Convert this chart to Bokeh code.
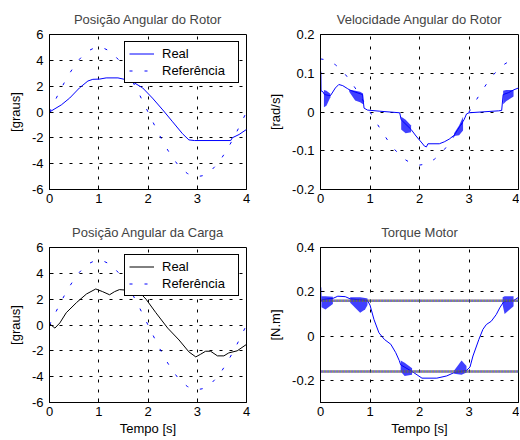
from bokeh.plotting import figure
from bokeh.layouts import column, row
from bokeh.models import Range1d, FixedTicker, CustomJSTickFormatter
from bokeh.embed import file_html
from bokeh.resources import INLINE

FONT = "Liberation Sans"

# ---------------- data ----------------
ref_t = [0.0, 0.1, 0.2, 0.3, 0.4, 0.5, 0.6, 0.7, 0.8, 0.9, 1.0, 1.1, 1.2, 1.3, 1.4,
         1.5, 1.6, 1.7, 1.8, 1.9, 2.0, 2.1, 2.2, 2.3, 2.4, 2.5, 2.6, 2.7, 2.8, 2.9,
         3.0, 3.1, 3.2, 3.3, 3.4, 3.5, 3.6, 3.7, 3.8, 3.9, 4.0]
pos_ref = [0.00, 0.78, 1.55, 2.27, 2.94, 3.54, 4.05, 4.46, 4.76, 4.94, 5.00, 4.94, 4.76, 4.46,
           4.05, 3.54, 2.94, 2.27, 1.55, 0.78, 0.00, -0.78, -1.55, -2.27, -2.94, -3.54, -4.05,
           -4.46, -4.76, -4.94, -5.00, -4.94, -4.76, -4.46, -4.05, -3.54, -2.94, -2.27, -1.55,
           -0.78, 0.00]
vel_ref = [0.137, 0.135, 0.130, 0.122, 0.111, 0.097, 0.081, 0.062, 0.042, 0.021, 0.000, -0.021,
           -0.042, -0.062, -0.081, -0.097, -0.111, -0.122, -0.130, -0.135, -0.137, -0.135, -0.130,
           -0.122, -0.111, -0.097, -0.081, -0.062, -0.042, -0.021, 0.000, 0.021, 0.042, 0.062,
           0.081, 0.097, 0.111, 0.122, 0.130, 0.135, 0.137]

rotor_t = [0.0, 0.24, 0.41, 0.61, 0.78, 0.88, 1.02, 1.15, 1.39, 1.52, 1.72, 1.89, 2.09, 2.30,
           2.50, 2.70, 2.83, 2.94, 3.68, 3.71, 3.85, 4.0]
rotor_pos = [0.0, 0.55, 1.08, 1.87, 2.40, 2.53, 2.55, 2.64, 2.64, 2.53, 2.26, 1.87, 1.08, 0.16,
             -0.76, -1.68, -2.16, -2.21, -2.21, -2.00, -1.74, -1.35]

load_t = [0.0, 0.11, 0.21, 0.34, 0.55, 0.75, 0.94, 1.08, 1.22, 1.32, 1.42, 1.69, 1.86, 1.96,
          2.16, 2.40, 2.63, 2.83, 2.97, 3.07, 3.17, 3.27, 3.41, 3.54, 3.64, 3.81, 4.0]
load_pos = [0.1, -0.24, 0.16, 0.95, 1.74, 2.40, 2.79, 2.58, 2.34, 2.58, 2.74, 2.66, 2.40, 2.00,
            0.95, -0.24, -1.16, -2.08, -2.47, -2.26, -2.03, -2.03, -2.39, -2.39, -2.16, -2.00,
            -1.50]

vel_t = [0.0, 0.004, 0.01, 0.05, 0.08, 0.2, 0.3, 0.37, 0.45, 0.55, 0.6, 0.85, 0.88, 0.95, 1.2,
         1.6, 1.63, 1.83, 1.93, 2.05, 2.1, 2.14, 2.17, 2.4, 2.5, 2.6, 2.7, 2.9, 2.95, 3.0, 3.6,
         3.66, 3.69, 3.8, 3.9, 4.0]
vel_real = [0.0, 0.104, 0.055, 0.052, 0.045, 0.042, 0.062, 0.071, 0.068, 0.060, 0.056, 0.045,
            0.010, 0.005, 0.002, -0.002, -0.020, -0.045, -0.062, -0.080, -0.088, -0.090, -0.082,
            -0.082, -0.077, -0.070, -0.060, -0.020, -0.005, -0.002, 0.003, 0.004, 0.045, 0.050,
            0.057, 0.062]

# chattering envelopes of the speed (t, lower, upper)
vel_ch1_t = [0.07, 0.12, 0.2];   vel_ch1_lo = [0.012, 0.016, 0.038]; vel_ch1_hi = [0.057, 0.055, 0.047]
vel_ch2_t = [0.58, 0.7, 0.8, 0.86]; vel_ch2_lo = [0.052, 0.03, 0.025, 0.02]; vel_ch2_hi = [0.058, 0.055, 0.052, 0.048]
vel_ch3_t = [1.63, 1.72, 1.83];  vel_ch3_lo = [-0.045, -0.055, -0.052]; vel_ch3_hi = [-0.012, -0.02, -0.035]
vel_ch4_t = [2.7, 2.8, 2.88];    vel_ch4_lo = [-0.062, -0.06, -0.048]; vel_ch4_hi = [-0.055, -0.035, -0.012]
vel_ch5_t = [3.69, 3.75, 3.9];   vel_ch5_lo = [0.02, 0.028, 0.04]; vel_ch5_hi = [0.055, 0.057, 0.057]

torque_t = [0.0, 0.003, 0.01, 0.05, 0.25, 0.35, 0.5, 0.6, 0.95, 1.0, 1.08, 1.18, 1.29, 1.42,
            1.52, 1.59, 1.62, 1.85, 1.95, 2.05, 2.35, 2.55, 2.7, 2.95, 3.02, 3.08, 3.2, 3.28,
            3.35, 3.45, 3.55, 3.62, 3.7, 3.9, 4.0]
torque_real = [0.0, 0.22, 0.16, 0.165, 0.17, 0.18, 0.178, 0.168, 0.16, 0.14, 0.075, 0.015,
               -0.015, -0.037, -0.075, -0.11, -0.13, -0.16, -0.175, -0.19, -0.19, -0.18, -0.165,
               -0.155, -0.14, -0.09, -0.015, 0.03, 0.052, 0.067, 0.097, 0.127, 0.155, 0.16, 0.175]

tq_ch1_t = [0.02, 0.1, 0.25];    tq_ch1_lo = [0.13, 0.12, 0.145]; tq_ch1_hi = [0.18, 0.18, 0.178]
tq_ch2_t = [0.6, 0.8, 0.9, 0.95]; tq_ch2_lo = [0.15, 0.105, 0.12, 0.14]; tq_ch2_hi = [0.175, 0.175, 0.172, 0.17]
tq_ch3_t = [1.62, 1.7, 1.85];    tq_ch3_lo = [-0.16, -0.18, -0.175]; tq_ch3_hi = [-0.11, -0.12, -0.145]
tq_ch4_t = [2.7, 2.85, 2.95];    tq_ch4_lo = [-0.17, -0.175, -0.165]; tq_ch4_hi = [-0.155, -0.11, -0.135]
tq_ch5_t = [3.68, 3.72, 3.9];    tq_ch5_lo = [0.14, 0.10, 0.135]; tq_ch5_hi = [0.175, 0.18, 0.18]

limit_t = [0.0, 4.0]
torque_limits = [0.16, -0.16]

x_ticks = [0, 1, 2, 3, 4]
pos_ticks = [-6, -4, -2, 0, 2, 4, 6]
vel_ticks = [-0.2, -0.1, 0, 0.1, 0.2]
tq_ticks = [-0.2, 0, 0.2, 0.4]


def make_fig(title, ylabel, yr, yticks, fw, bl, br, bt, bb, xlabel=None):
    p = figure(frame_width=fw, frame_height=155, output_backend="svg", toolbar_location=None,
               x_range=Range1d(0, 4), y_range=Range1d(*yr),
               min_border_left=bl, min_border_right=br, min_border_top=bt, min_border_bottom=bb)
    p.title.text = title
    p.title.text_font = FONT
    p.title.text_font_size = "13px"
    p.title.text_font_style = "normal"
    p.title.align = "center"
    p.title.standoff = 15
    p.outline_line_color = "black"
    p.outline_line_alpha = 1
    p.xaxis.ticker = FixedTicker(ticks=x_ticks)
    p.yaxis.ticker = FixedTicker(ticks=yticks)
    p.yaxis.formatter = CustomJSTickFormatter(code="return String(Math.round(tick*1000)/1000);")
    for ax in (p.xaxis, p.yaxis):
        ax.major_tick_in = 4
        ax.major_tick_out = 0
        ax.minor_tick_in = 0
        ax.minor_tick_out = 0
        ax.axis_line_color = "black"
        ax.major_tick_line_color = "black"
        ax.major_label_text_font = FONT
        ax.major_label_text_font_size = "13px"
        ax.major_label_text_color = "black"
        ax.axis_label_text_font = FONT
        ax.axis_label_text_font_size = "13px"
        ax.axis_label_text_font_style = "normal"
        ax.axis_label_text_color = "black"
    p.yaxis.major_label_standoff = 6
    p.xaxis.major_label_standoff = 4
    p.yaxis.axis_label = ylabel
    p.yaxis.axis_label_standoff = 6
    if xlabel:
        p.xaxis.axis_label = xlabel
        p.xaxis.axis_label_standoff = 2
    p.grid.grid_line_color = "black"
    p.grid.grid_line_alpha = 1
    p.grid.grid_line_dash = "3 7"
    p.grid.grid_line_width = 1
    return p


def style_legend(p):
    lg = p.legend[0]
    lg.location = "top_right"
    lg.margin = 7
    lg.padding = 4
    lg.spacing = 2
    lg.glyph_height = 15
    lg.label_height = 15
    lg.glyph_width = 25
    lg.label_standoff = 8
    lg.label_width = 72
    lg.border_line_color = "black"
    lg.border_line_width = 1
    lg.border_line_alpha = 1
    lg.background_fill_alpha = 1
    lg.label_text_font = FONT
    lg.label_text_font_size = "13px"
    lg.label_text_color = "black"


BLUE = "#0000ff"

# Posição angular do rotor
p1 = make_fig("Posição Angular do Rotor", "[graus]", (-6, 6), pos_ticks, 197, 49, 14, 34, 25)
p1.line(rotor_t, rotor_pos, line_color=BLUE, line_width=1, legend_label="Real")
p1.line(ref_t, pos_ref, line_color=BLUE, line_width=1, line_dash="3 12", legend_label="Referência")
style_legend(p1)

# Velocidade angular do rotor
p2 = make_fig("Velocidade Angular do Rotor", "[rad/s]", (-0.2, 0.2), vel_ticks, 198, 60, 1, 34, 25)
for bt_, lo_, hi_ in ((vel_ch1_t, vel_ch1_lo, vel_ch1_hi), (vel_ch2_t, vel_ch2_lo, vel_ch2_hi),
                      (vel_ch3_t, vel_ch3_lo, vel_ch3_hi), (vel_ch4_t, vel_ch4_lo, vel_ch4_hi),
                      (vel_ch5_t, vel_ch5_lo, vel_ch5_hi)):
    p2.varea(x=bt_, y1=lo_, y2=hi_, fill_color=BLUE, fill_alpha=0.75)
p2.line(vel_t, vel_real, line_color=BLUE, line_width=1)
p2.line(ref_t, vel_ref, line_color=BLUE, line_width=1, line_dash="3 12")

# Posição angular da carga
p3 = make_fig("Posição Angular da Carga", "[graus]", (-6, 6), pos_ticks, 197, 49, 14, 33, 36, "Tempo [s]")
p3.line(load_t, load_pos, line_color="black", line_width=1, legend_label="Real")
p3.line(ref_t, pos_ref, line_color=BLUE, line_width=1, line_dash="3 12", legend_label="Referência")
style_legend(p3)

# Torque motor
p4 = make_fig("Torque Motor", "[N.m]", (-0.3, 0.4), tq_ticks, 198, 60, 1, 33, 36, "Tempo [s]")
for bt_, lo_, hi_ in ((tq_ch1_t, tq_ch1_lo, tq_ch1_hi), (tq_ch2_t, tq_ch2_lo, tq_ch2_hi),
                      (tq_ch3_t, tq_ch3_lo, tq_ch3_hi), (tq_ch4_t, tq_ch4_lo, tq_ch4_hi),
                      (tq_ch5_t, tq_ch5_lo, tq_ch5_hi)):
    p4.varea(x=bt_, y1=lo_, y2=hi_, fill_color=BLUE, fill_alpha=0.75)
p4.line(torque_t, torque_real, line_color=BLUE, line_width=1)
for lim in torque_limits:
    for col, off in (("#e03030", 0), ("#30a030", 1), ("#3030e0", 2)):
        p4.line(limit_t, [lim, lim], line_color=col, line_width=2.5, line_dash="1 2",
                line_dash_offset=off)

layout = column(row(p1, p2), row(p3, p4))
open("out.html", "w").write(file_html(layout, INLINE))
